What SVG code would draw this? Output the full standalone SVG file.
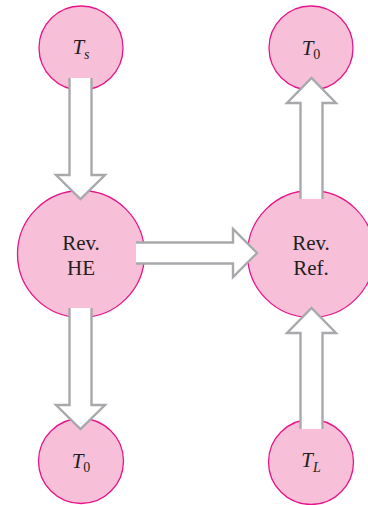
<svg xmlns="http://www.w3.org/2000/svg" width="368" height="505" viewBox="0 0 368 505">
<style>
.node{fill:#F7BFD8;stroke:#E6168A;stroke-width:1.3}
.lbl{font-family:"Liberation Serif","Times New Roman",serif;font-size:21px;fill:#231F20;text-anchor:middle}
.it{font-style:italic}
.sub{font-size:14px}
.af{fill:#FFFFFF;stroke:none}
.as{fill:none;stroke:#A7A9AC;stroke-width:2.4;stroke-linejoin:miter}
</style>
<rect width="368" height="505" fill="#FFFFFF"/>
<g id="node-Ts">
<circle class="node" cx="81" cy="48" r="42"/>
<text class="lbl" x="81" y="54"><tspan class="it">T</tspan><tspan class="it sub" dy="5">s</tspan></text>
</g>
<g id="node-T0-top">
<circle class="node" cx="311" cy="48" r="42"/>
<text class="lbl" x="311" y="55"><tspan class="it">T</tspan><tspan class="sub" dy="4">0</tspan></text>
</g>
<g id="node-revHE">
<circle class="node" cx="81" cy="254" r="63.5"/>
<text class="lbl" x="81" y="250">Rev.</text>
<text class="lbl" x="81" y="275">HE</text>
</g>
<g id="node-revRef">
<circle class="node" cx="311" cy="254" r="63.5"/>
<text class="lbl" x="311" y="250">Rev.</text>
<text class="lbl" x="311" y="275">Ref.</text>
</g>
<g id="node-T0-bottom">
<circle class="node" cx="81" cy="461" r="42.5"/>
<text class="lbl" x="81" y="468"><tspan class="it">T</tspan><tspan class="sub" dy="4">0</tspan></text>
</g>
<g id="node-TL">
<circle class="node" cx="311" cy="462" r="42.5"/>
<text class="lbl" x="311" y="467"><tspan class="it">T</tspan><tspan class="it sub" dy="5">L</tspan></text>
</g>
<g id="connectors">
<g id="arrow-Ts-HE">
<polygon class="af" points="69.5,78 91.5,78 91.5,175 105,175 80.5,199 56,175 69.5,175"/>
<polyline class="as" points="69.5,78 69.5,175 56,175 80.5,199 105,175 91.5,175 91.5,78"/>
</g>
<g id="arrow-HE-T0">
<polygon class="af" points="69.5,308 91.5,308 91.5,405 105,405 80.5,429 56,405 69.5,405"/>
<polyline class="as" points="69.5,308 69.5,405 56,405 80.5,429 105,405 91.5,405 91.5,308"/>
</g>
<g id="arrow-HE-Ref">
<polygon class="af" points="136,242.5 233,242.5 233,229 257,253 233,277 233,263.5 136,263.5"/>
<polyline class="as" points="136,242.5 233,242.5 233,229 257,253 233,277 233,263.5 136,263.5"/>
</g>
<g id="arrow-Ref-T0">
<polygon class="af" points="300.5,199 322.5,199 322.5,103 336,103 311.5,78 287,103 300.5,103"/>
<polyline class="as" points="300.5,199 300.5,103 287,103 311.5,78 336,103 322.5,103 322.5,199"/>
</g>
<g id="arrow-TL-Ref">
<polygon class="af" points="300.5,429 322.5,429 322.5,333 336,333 311.5,308 287,333 300.5,333"/>
<polyline class="as" points="300.5,429 300.5,333 287,333 311.5,308 336,333 322.5,333 322.5,429"/>
</g>
</g>
</svg>
